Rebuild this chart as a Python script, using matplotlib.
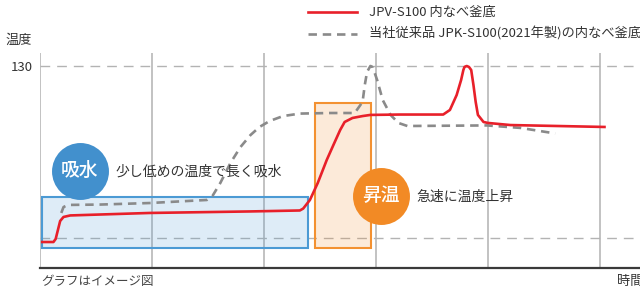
import matplotlib
matplotlib.use("Agg")
import matplotlib.pyplot as plt
from matplotlib.lines import Line2D

plt.rcParams['font.family'] = ['Noto Sans CJK JP', 'DejaVu Sans']

# new pot (red) - time in grid units, temperature
new_t = [0.02, 0.12, 0.14, 0.16, 0.18, 0.21, 0.27, 0.98, 1.88, 2.32, 2.35, 2.41,
         2.48, 2.56, 2.62, 2.68, 2.72, 2.79, 2.88, 2.95, 3.21, 3.60, 3.66, 3.72,
         3.76, 3.78, 3.79, 3.81, 3.83, 3.85, 3.87, 3.89, 3.91, 3.96, 4.00, 4.20, 5.04]
new_temp = [37.9, 37.9, 39.5, 44.2, 48.9, 51.0, 51.8, 53.1, 53.9, 54.4, 55.4, 59.9,
            68.8, 80.8, 88.7, 96.5, 100.7, 102.8, 103.8, 104.4, 104.6, 104.6, 107.0, 114.8,
            122.7, 127.9, 129.5, 130.0, 129.5, 127.9, 120.1, 111.2, 104.4, 100.7, 100.2, 99.1, 98.1]

# old pot (gray dashed)
old_t = [0.19, 0.21, 0.25, 0.54, 0.98, 1.49, 1.54, 1.61, 1.70, 1.79, 1.88, 1.96,
         2.05, 2.17, 2.32, 2.59, 2.81, 2.88, 2.90, 2.92, 2.95, 2.97, 3.01, 3.06,
         3.13, 3.20, 3.28, 3.99, 4.29, 4.60]
old_temp = [53.1, 56.2, 57.3, 57.5, 58.3, 59.9, 62.0, 68.8, 79.2, 87.6, 93.9, 98.1,
            101.2, 103.8, 105.1, 105.4, 105.4, 111.2, 120.1, 126.9, 130.0, 129.5, 122.7, 112.2,
            104.4, 100.2, 98.6, 98.9, 97.6, 94.7]

grid_x = [0, 1, 2, 3, 4, 5]
ref_temps = [40, 130]
ref_labels = ['', '130']

# phases: (start, end, low, high)
absorb_box = (0.015, 2.393, 34.8, 61.4)
heat_box = (2.455, 2.955, 34.6, 110.8)

fig = plt.figure(figsize=(6.4, 2.9), dpi=100)
ax = fig.add_axes([40 / 640, 1 - 268 / 290, 600 / 640, (268 - 53) / 290])
ax.set_xlim(0, 600 / 112)
ax.set_ylim(24.3, 136.8)

for s in ['top', 'right', 'left']:
    ax.spines[s].set_visible(False)
ax.spines['bottom'].set_color('#3a3a3a')
ax.spines['bottom'].set_linewidth(1.6)
ax.spines['bottom'].set_zorder(5)

ax.set_xticks(grid_x)
ax.set_xticklabels([])
ax.set_yticks(ref_temps)
ax.set_yticklabels(ref_labels)
ax.tick_params(length=0, labelsize=9.5, labelcolor='#333333', pad=5)
for v in grid_x:
    ax.axvline(v, color='#bdbdbd', lw=1.3, zorder=1)
for v in ref_temps:
    ax.axhline(v, color='#b3b3b3', lw=1.0, dashes=(7, 5), zorder=1)

# phase boxes
x0, x1, y0, y1 = absorb_box
ax.add_patch(plt.Rectangle((x0, y0), x1 - x0, y1 - y0, facecolor=(0.29, 0.60, 0.83, 0.18),
                           edgecolor='#4b9ad4', lw=1.5, zorder=2))
x0, x1, y0, y1 = heat_box
ax.add_patch(plt.Rectangle((x0, y0), x1 - x0, y1 - y0, facecolor=(0.95, 0.56, 0.19, 0.18),
                           edgecolor='#f39131', lw=1.5, zorder=2))

ax.plot(old_t, old_temp, color='#8a8a8a', lw=1.9, dashes=(3.2, 2.2), zorder=3)
ax.plot(new_t, new_temp, color='#e8202a', lw=1.9, zorder=4, solid_joinstyle='round')

# bubbles
ax.plot([0.353], [75.1], 'o', ms=41, color='#4290cd', mec='none', zorder=6, clip_on=False)
ax.text(0.353, 75.1, '吸水', color='white', fontsize=13.5, ha='center', va='center',
        zorder=7, fontweight='medium')
ax.text(0.67, 74.6, '少し低めの温度で長く吸水', color='#333333', fontsize=10,
        ha='left', va='center', zorder=7)

ax.plot([3.045], [62.0], 'o', ms=41, color='#f28a25', mec='none', zorder=6, clip_on=False)
ax.text(3.045, 62.0, '昇温', color='white', fontsize=13.5, ha='center', va='center',
        zorder=7, fontweight='medium')
ax.text(3.357, 61.6, '急速に温度上昇', color='#333333', fontsize=10,
        ha='left', va='center', zorder=7)

# legend drawn by hand
def fx(px):
    return px / 640

def fy(py):
    return 1 - py / 290

fig.add_artist(Line2D([fx(308), fx(357)], [fy(12), fy(12)], color='#e8202a', lw=1.9))
fig.add_artist(Line2D([fx(308), fx(357)], [fy(34), fy(34)], color='#8a8a8a', lw=1.9,
                      dashes=(3.2, 2.2)))
fig.text(fx(369), fy(12), 'JPV-S100 内なべ釜底', fontsize=9.5, color='#333333', va='center')
fig.text(fx(369), fy(34), '当社従来品 JPK-S100(2021年製)の内なべ釜底', fontsize=9.5,
         color='#333333', va='center')

fig.text(fx(6), fy(40), '温度', fontsize=9.5, color='#333333', va='center')
fig.text(fx(41), fy(282), 'グラフはイメージ図', fontsize=9, color='#444444', va='center')
fig.text(fx(617), fy(282), '時間', fontsize=9.5, color='#333333', va='center')

fig.savefig('out.png', dpi=100)
